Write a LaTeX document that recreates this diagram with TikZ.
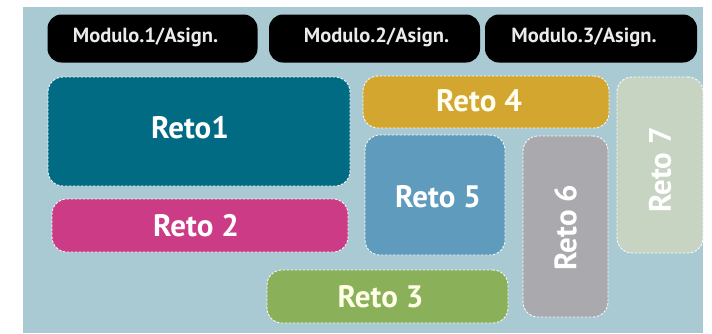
\documentclass[tikz,border=0pt]{standalone}
\usepackage{fontspec}
\setmainfont{PT Sans}
\begin{document}
\definecolor{bgblue}{HTML}{A9C9D3}
\definecolor{cteal}{HTML}{016B83}
\definecolor{cmagenta}{HTML}{CC3B85}
\definecolor{cgreen}{HTML}{8BB05A}
\definecolor{cgold}{HTML}{D3A72F}
\definecolor{csteel}{HTML}{5F9BBD}
\definecolor{cgrey}{HTML}{A9A9AE}
\definecolor{cpale}{HTML}{C8D4C2}
\begin{tikzpicture}[x=1pt,y=-1pt,
  modbox/.style={fill=black,rounded corners=14pt,inner sep=0pt},
  modtext/.style={text=white!92!black,font=\bfseries\fontsize{20.5}{24}\selectfont,inner sep=0pt},
  retobox/.style={draw=white!92!bgblue,dashed,dash pattern=on 2.5pt off 1.5pt,
    line width=0.9pt,rounded corners=15pt,inner sep=0pt},
  retotext/.style={text=white,font=\bfseries\fontsize{31}{36}\selectfont,inner sep=0pt}]
  \useasboundingbox (0,0) rectangle (712,333);
  \fill[white] (0,0) rectangle (712,333);
  \fill[bgblue] (23,7) rectangle (703,333);

  % module headers
  \node[modbox,minimum width=210pt,minimum height=48pt] (m1) at (152.5,38.5) {};
  \node[modbox,minimum width=211pt,minimum height=48pt] (m2) at (374.5,38.5) {};
  \node[modbox,minimum width=212pt,minimum height=48pt] (m3) at (591,38.5) {};
  \node[modtext] (m1t) at ([xshift=-7pt,yshift=1pt]m1.center) {Modulo.1/Asign.};
  \node[modtext] (m2t) at ([xshift=2pt,yshift=1pt]m2.center) {Modulo.2/Asign.};
  \node[modtext] (m3t) at ([xshift=-7pt,yshift=1pt]m3.center) {Modulo.3/Asign.};

  % challenge blocks
  \node[retobox,fill=cteal,minimum width=302pt,minimum height=109pt] (r1) at (199,131.5) {};
  \node[retobox,fill=cmagenta,minimum width=296pt,minimum height=53pt] (r2) at (200,225.5) {};
  \node[retobox,fill=cgreen,minimum width=241pt,minimum height=53pt] (r3) at (387.5,296.5) {};
  \node[retobox,fill=cgold,minimum width=246pt,minimum height=52pt] (r4) at (486,102) {};
  \node[retobox,fill=csteel,minimum width=140pt,minimum height=120pt] (r5) at (435,195) {};
  \node[retobox,fill=cgrey,minimum width=85pt,minimum height=181pt] (r6) at (565.5,226.5) {};
  \node[retobox,fill=cpale,minimum width=86pt,minimum height=176pt] (r7) at (660,165) {};

  % labels
  \node[retotext] (t1) at ([xshift=-9pt,yshift=4pt]r1.center) {Reto1};
  \node[retotext] (t2) at ([xshift=-4pt]r2.center) {Reto 2};
  \node[retotext,text=white!90!yellow] (t3) at ([xshift=-7pt]r3.center) {Reto 3};
  \node[retotext,text=white!94!yellow] (t4) at ([xshift=-7pt,yshift=1pt]r4.center) {Reto 4};
  \node[retotext] (t5) at ([xshift=3pt,yshift=-2pt]r5.center) {Reto 5};
  \node[retotext,rotate=90] (t6) at ([yshift=-1pt]r6.center) {Reto 6};
  \node[retotext,rotate=90] (t7) at ([yshift=-5pt]r7.center) {Reto 7};
\end{tikzpicture}
\end{document}
